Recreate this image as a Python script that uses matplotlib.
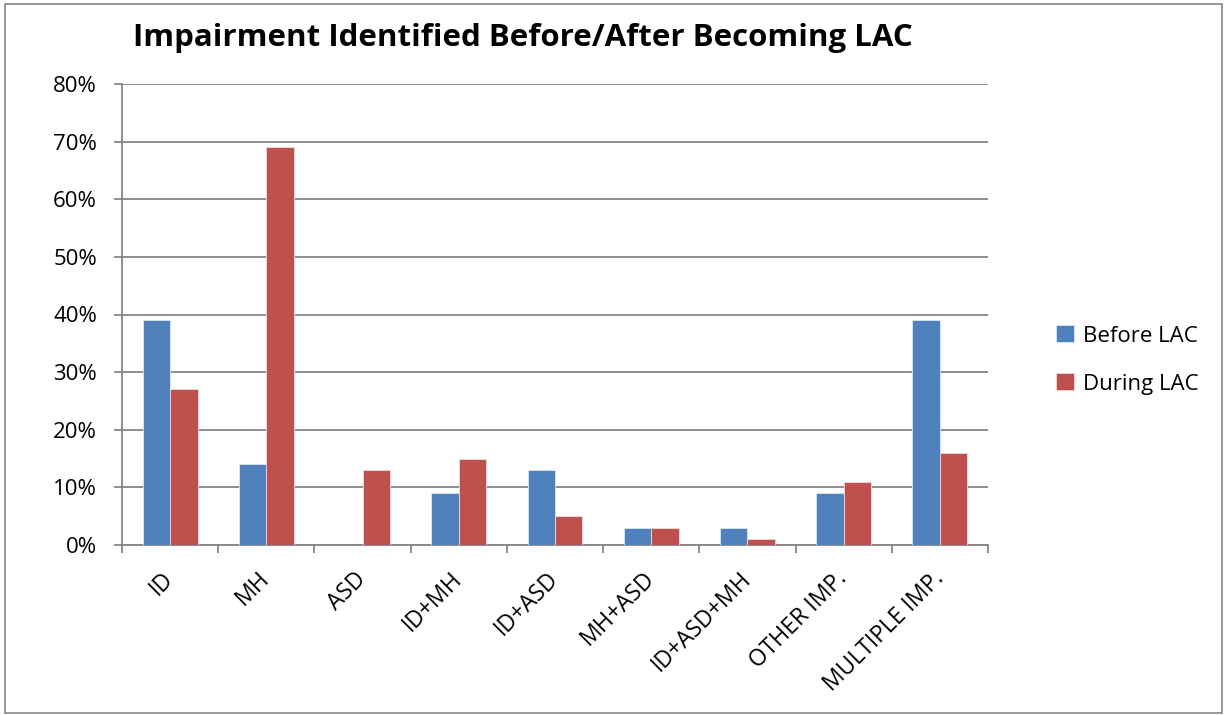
import matplotlib
matplotlib.use("Agg")
import matplotlib.pyplot as plt
import numpy as np
from matplotlib.patches import Rectangle
from matplotlib.ticker import PercentFormatter

categories = ["ID", "MH", "ASD", "ID+MH", "ID+ASD", "MH+ASD", "ID+ASD+MH", "OTHER IMP.", "MULTIPLE IMP."]
before_lac = [39, 14, 0, 9, 13, 3, 3, 9, 39]
during_lac = [27, 69, 13, 15, 5, 3, 1, 11, 16]
series_names = ["Before LAC", "During LAC"]
y_ticks = [0, 10, 20, 30, 40, 50, 60, 70, 80]

plt.rcParams['font.family'] = ['Open Sans', 'DejaVu Sans']

fig = plt.figure(figsize=(12.24, 7.15), dpi=100)
fig.patches.append(Rectangle((0.004, 0.003), 0.994, 0.991, transform=fig.transFigure,
                             fill=False, edgecolor="#868686", linewidth=1.2))

ax = fig.add_axes([122/1224, 1-545/715, (988-122)/1224, (545-84)/715])
x = np.arange(len(categories))
w = 1/3.5
blue = "#4F81BD"
red = "#C0504D"
b1 = ax.bar(x - w/2, before_lac, width=w, color=blue, edgecolor="#dce6f2", linewidth=0.6, label=series_names[0], zorder=3)
b2 = ax.bar(x + w/2, during_lac, width=w, color=red, edgecolor="#f2dcdb", linewidth=0.6, label=series_names[1], zorder=3)

ax.set_xlim(-0.5, len(categories) - 0.5)
ax.set_ylim(0, 80)
ax.set_yticks(y_ticks)
ax.yaxis.set_major_formatter(PercentFormatter(decimals=0))
ax.grid(axis="y", color="#868686", linewidth=1.3, zorder=0)
for s in ["top", "right"]:
    ax.spines[s].set_visible(False)
ax.spines["left"].set_color("#868686")
ax.spines["left"].set_linewidth(1.3)
ax.spines["bottom"].set_color("#868686")
ax.spines["bottom"].set_linewidth(1.3)

ax.tick_params(axis="y", length=6, width=1.3, color="#868686", labelsize=16, pad=12)
ax.set_xticks(np.arange(-0.5, len(categories), 1), minor=False)
ax.set_xticklabels([])
ax.set_xticks(x, minor=True)
ax.set_xticklabels(categories, minor=True, rotation=45, ha="right", va="center",
                   rotation_mode="anchor", fontsize=16.5)
ax.tick_params(axis="x", which="major", length=6, width=1.3, color="#868686", direction="out")
ax.tick_params(axis="x", which="minor", length=0, pad=22)

fig.text(133/1224, 1-38/715, "Impairment Identified Before/After Becoming LAC",
         fontsize=22.5, fontweight="bold", ha="left", va="center")

leg = fig.legend(handles=[b1, b2], labels=series_names, loc="center left",
                 bbox_to_anchor=(1036/1224, 1-360/715),
                 frameon=False, fontsize=16, handlelength=0.8, handleheight=0.8,
                 labelspacing=1.2, handletextpad=0.4)

fig.savefig("out.png", dpi=100)
